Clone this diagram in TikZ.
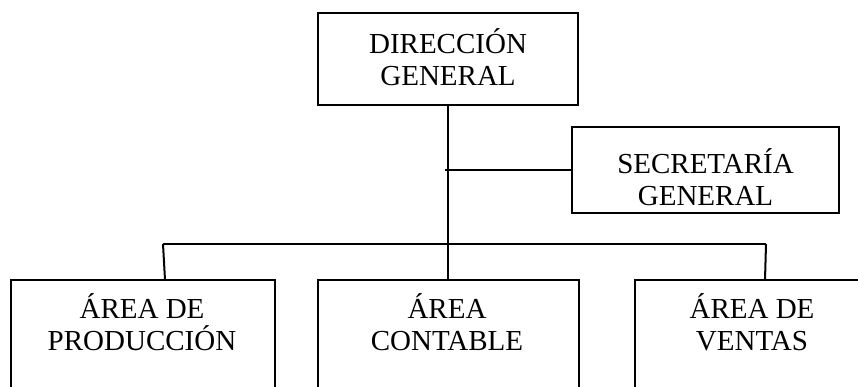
\documentclass[tikz,border=0pt]{standalone}
\usepackage{fontspec}
\setmainfont{Liberation Serif}
\begin{document}
\begin{tikzpicture}[x=1pt,y=-1pt,
  box/.style={draw,line width=2pt,rectangle,inner sep=0pt},
  lbl/.style={font=\fontsize{29}{32}\selectfont,align=center,anchor=base,inner sep=0pt},
  link/.style={line width=2pt}]
\useasboundingbox (0,0) rectangle (858,386);
\clip (0,0) rectangle (858,386);
% boxes (the lower row runs past the bottom edge)
\node[box,minimum width=260,minimum height=92] (dg) at (448,59) {};
\node[box,minimum width=267,minimum height=86] (sg) at (705.5,170) {};
\node[box,minimum width=264,minimum height=140] (ap) at (143,350) {};
\node[box,minimum width=261,minimum height=140] (ac) at (448,350) {};
\node[box,minimum width=234,minimum height=140] (av) at (752,350) {};
% labels, placed by the baseline of their last line
\node[lbl] (tdg) at (448,85) {DIRECCIÓN\\GENERAL};
\node[lbl] (tsg) at (705.5,205) {SECRETARÍA\\GENERAL};
\node[lbl] (tap) at (142,350) {ÁREA DE\\PRODUCCIÓN};
\node[lbl] (tac) at (447,350) {ÁREA\\CONTABLE};
\node[lbl] (tav) at (752,350) {ÁREA DE\\VENTAS};
% connectors
\coordinate (sj) at (445,170);
\coordinate (bl) at (163,244);
\coordinate (br) at (766,244);
\draw[link] (dg.south) -- (ac.north);
\draw[link] (sj) -- (sg.west);
\draw[link] (bl) -- (br);
\draw[link] (bl) -- (165,280);
\draw[link] (br) -- (765,280);
\end{tikzpicture}
\end{document}
